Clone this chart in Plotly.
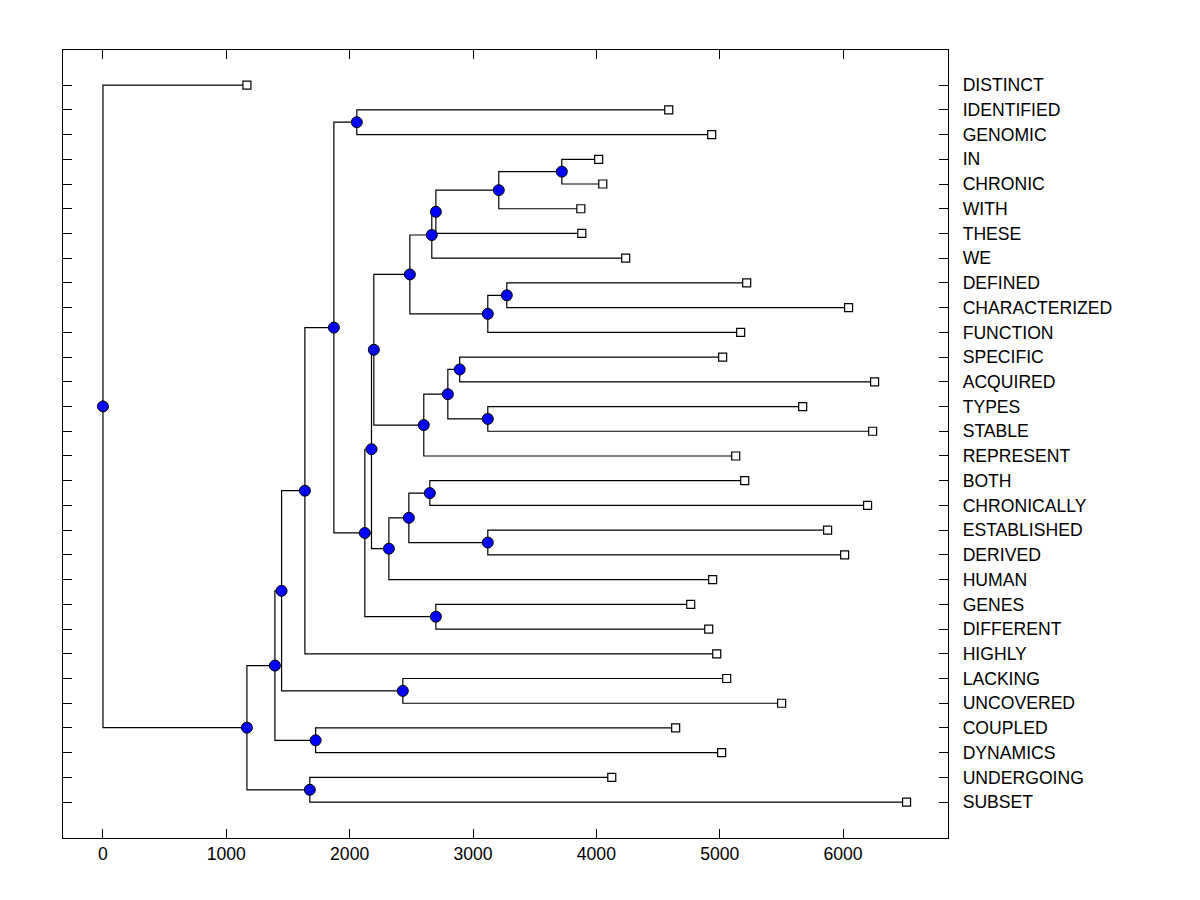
import plotly.graph_objects as go

# leaves, top to bottom, with the x where each leaf ends
leaves = ["DISTINCT", "IDENTIFIED", "GENOMIC", "IN", "CHRONIC", "WITH", "THESE", "WE",
          "DEFINED", "CHARACTERIZED", "FUNCTION", "SPECIFIC", "ACQUIRED", "TYPES",
          "STABLE", "REPRESENT", "BOTH", "CHRONICALLY", "ESTABLISHED", "DERIVED",
          "HUMAN", "GENES", "DIFFERENT", "HIGHLY", "LACKING", "UNCOVERED",
          "COUPLED", "DYNAMICS", "UNDERGOING", "SUBSET"]
leaf_x = [1167, 4587, 4935, 4019, 4052, 3874, 3882, 4238,
          5219, 6045, 5170, 5024, 6256, 5673,
          6240, 5130, 5203, 6199, 5875, 6013,
          4943, 4765, 4911, 4976, 5057, 5502,
          4643, 5016, 4125, 6515]

# merges: node name, first child, second child, merge height
merge_node = ["Z", "Y1", "Y", "X", "W", "V", "U", "S", "T", "R", "Q", "P",
              "N", "O", "M", "L", "K", "J", "I", "H", "G", "F", "LU", "E",
              "D", "B", "C", "A", "ROOT"]
merge_a = ["IN", "Z", "Y1", "Y", "DEFINED", "W", "X", "SPECIFIC", "TYPES", "S", "R", "U",
           "BOTH", "ESTABLISHED", "N", "M", "P", "GENES", "K", "IDENTIFIED", "H", "G", "LACKING", "F",
           "COUPLED", "E", "UNDERGOING", "B", "DISTINCT"]
merge_b = ["CHRONIC", "WITH", "THESE", "WE", "CHARACTERIZED", "FUNCTION", "V", "ACQUIRED", "STABLE", "T", "REPRESENT", "Q",
           "CHRONICALLY", "DERIVED", "O", "HUMAN", "L", "DIFFERENT", "J", "GENOMIC", "I", "HIGHLY", "UNCOVERED", "LU",
           "DYNAMICS", "D", "SUBSET", "C", "A"]
merge_x = [3720, 3209, 2699, 2666, 3274, 3120, 2488, 2892, 3120, 2796, 2601, 2196,
           2650, 3120, 2480, 2318, 2177, 2699, 2123, 2058, 1872, 1637, 2431, 1448,
           1724, 1394, 1677, 1167, 0]

xtick_vals = [0, 1000, 2000, 3000, 4000, 5000, 6000]

pos_x = {n: v for n, v in zip(leaves, leaf_x)}
pos_y = {n: i for i, n in enumerate(leaves)}

lx, ly = [], []
for n, a, b, h in zip(merge_node, merge_a, merge_b, merge_x):
    pos_x[n] = h
    pos_y[n] = (pos_y[a] + pos_y[b]) / 2
    lx += [pos_x[a], h, h, pos_x[b], None]
    ly += [pos_y[a], pos_y[a], pos_y[b], pos_y[b], None]

fig = go.Figure()
fig.add_trace(go.Scatter(x=lx, y=ly, mode="lines",
                         line=dict(color="black", width=1.2), hoverinfo="skip"))
fig.add_trace(go.Scatter(x=leaf_x, y=list(range(len(leaves))), mode="markers",
                         marker=dict(symbol="square", size=8, color="white",
                                     line=dict(color="black", width=1.2)),
                         text=leaves))
fig.add_trace(go.Scatter(x=merge_x, y=[pos_y[n] for n in merge_node], mode="markers",
                         marker=dict(symbol="circle", size=11, color="#0000ff",
                                     line=dict(color="black", width=1))))

fig.update_layout(
    width=1200, height=900,
    margin=dict(l=55, r=260, t=42, b=70),
    paper_bgcolor="white", plot_bgcolor="white",
    showlegend=False,
    font=dict(family="Liberation Sans, Arial, sans-serif", size=17.6, color="black"),
)
fig.update_xaxes(range=[-324, 6851], tickvals=xtick_vals, ticks="inside", ticklen=9,
                 tickcolor="black", showline=True, linecolor="black", linewidth=1.3,
                 mirror="ticks", showgrid=False, zeroline=False, ticklabelstandoff=0)
fig.update_yaxes(range=[30.45, -1.42], side="right", tickvals=list(range(len(leaves))),
                 ticktext=leaves, ticks="inside", ticklen=9, tickcolor="black",
                 showline=True, linecolor="black", linewidth=1.3, mirror="ticks",
                 showgrid=False, zeroline=False, ticklabelstandoff=10)

fig.write_html("out.html")
